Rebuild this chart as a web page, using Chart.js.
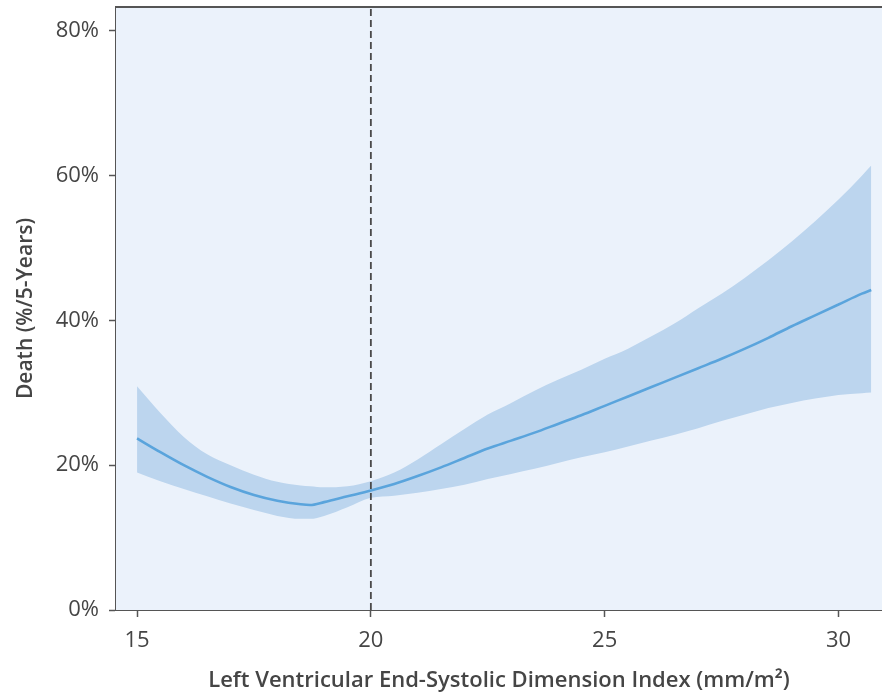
<!DOCTYPE html>
<html>
<head>
<meta charset="utf-8">
<script src="https://cdn.jsdelivr.net/npm/chart.js@4/dist/chart.umd.min.js"></script>
<style>
  html, body { margin: 0; padding: 0; background: #fff; }
  #wrap { width: 882px; height: 694px; }
</style>
</head>
<body>
<div id="wrap"><canvas id="riskChart" width="882" height="694"></canvas></div>
<script>
// ---------- data ----------
const lvesdi = [15, 15.5, 16, 16.5, 17, 17.5, 18, 18.5, 18.7, 19, 19.5, 20, 20.5, 21, 21.5, 22, 22.5, 23, 23.5, 24, 24.5, 25, 25.5, 26, 26.5, 27, 27.5, 28, 28.5, 29, 29.5, 30, 30.5, 30.7];
const deathRate = [23.7, 21.8, 20.0, 18.4, 17.0, 15.9, 15.1, 14.6, 14.5, 14.9, 15.7, 16.5, 17.4, 18.5, 19.7, 21.0, 22.3, 23.4, 24.5, 25.7, 26.9, 28.2, 29.5, 30.8, 32.1, 33.4, 34.7, 36.1, 37.6, 39.2, 40.7, 42.2, 43.7, 44.2];
const upperCI = [30.9, 27.2, 23.9, 21.5, 20.0, 18.7, 17.7, 17.2, 17.1, 16.95, 17.1, 17.8, 19.0, 20.8, 22.9, 25.0, 27.0, 28.6, 30.3, 31.8, 33.2, 34.7, 36.1, 37.8, 39.6, 41.7, 43.7, 45.9, 48.3, 50.9, 53.7, 56.7, 60.0, 61.4];
const lowerCI = [19.0, 17.8, 16.7, 15.7, 14.7, 13.8, 13.0, 12.6, 12.6, 13.0, 14.2, 15.5, 15.8, 16.2, 16.7, 17.3, 18.1, 18.8, 19.5, 20.3, 21.1, 21.8, 22.6, 23.4, 24.2, 25.1, 26.1, 27.0, 27.9, 28.6, 29.2, 29.7, 29.95, 30.05];
const xTicks = [15, 20, 25, 30];
const yTicks = [0, 20, 40, 60, 80];
const cutoffX = 20;
const xMin = 14.55, xMax = 30.93;
const yMin = 0, yMax = 83.3;

const pts = (ys) => lvesdi.map((x, i) => ({ x, y: ys[i] }));

const INK = "#454545";
const AXIS = "#555";
const FONT = "'Open Sans', 'Noto Sans', sans-serif";

// plot background + top frame line
const frame = {
  id: "frame",
  beforeDatasetsDraw(chart) {
    const { ctx, chartArea: a } = chart;
    ctx.save();
    ctx.fillStyle = "#ebf2fb";
    ctx.fillRect(a.left, a.top, a.right - a.left, a.bottom - a.top);
    ctx.strokeStyle = AXIS;
    ctx.lineWidth = 2;
    ctx.beginPath();
    ctx.moveTo(a.left, a.top);
    ctx.lineTo(a.right, a.top);
    ctx.stroke();
    ctx.restore();
  },
};

const noPad = (s) => { s.paddingTop = 0; s.paddingBottom = 0; s.paddingLeft = 0; s.paddingRight = 0; };

new Chart(document.getElementById("riskChart"), {
  type: "line",
  data: {
    datasets: [
      { data: pts(upperCI), borderWidth: 0, pointRadius: 0, fill: false, cubicInterpolationMode: "monotone", backgroundColor: "#bcd5ee", order: 3 },
      { data: pts(lowerCI), borderWidth: 0, pointRadius: 0, fill: "-1", cubicInterpolationMode: "monotone", backgroundColor: "#bcd5ee", order: 3 },
      { data: pts(deathRate), borderColor: "#5aa4dc", borderWidth: 2.6, pointRadius: 0, fill: false, cubicInterpolationMode: "monotone", order: 2 },
      { data: [{ x: cutoffX, y: yMin }, { x: cutoffX, y: yMax }], borderColor: "#4a4a4a", borderWidth: 1.8, borderDash: [7, 4], pointRadius: 0, fill: false, order: 1 },
    ],
  },
  options: {
    responsive: false,
    animation: false,
    layout: { padding: { top: 7, right: 0, left: 0, bottom: 0 } },
    plugins: { legend: { display: false }, tooltip: { enabled: false } },
    scales: {
      x: {
        type: "linear",
        min: xMin, max: xMax,
        afterBuildTicks: (s) => { s.ticks = xTicks.map((v) => ({ value: v })); },
        afterFit: (s) => { s.height = 84; noPad(s); },
        grid: { display: true, drawOnChartArea: false, drawTicks: true, tickLength: 7, tickColor: AXIS, tickWidth: 1.5 },
        border: { display: true, color: AXIS, width: 2 },
        ticks: { color: INK, font: { family: FONT, size: 22 }, padding: 11 },
        title: { display: true, text: "Left Ventricular End-Systolic Dimension Index (mm/m²)", color: INK, font: { family: FONT, size: 22, weight: "600" }, padding: { top: 4, bottom: 0 } },
      },
      y: {
        min: yMin, max: yMax,
        afterBuildTicks: (s) => { s.ticks = yTicks.map((v) => ({ value: v })); },
        afterFit: (s) => { s.width = 116; noPad(s); },
        grid: { display: true, drawOnChartArea: false, drawTicks: true, tickLength: 7, tickColor: AXIS, tickWidth: 1.5 },
        border: { display: true, color: AXIS, width: 2 },
        ticks: { color: INK, font: { family: FONT, size: 22 }, padding: 10, callback: (v) => v + "%" },
        title: { display: true, text: "Death (%/5-Years)", color: INK, font: { family: FONT, size: 21, weight: "600" }, padding: { top: 13, bottom: 4 } },
      },
    },
  },
  plugins: [frame],
});
</script>
</body>
</html>
